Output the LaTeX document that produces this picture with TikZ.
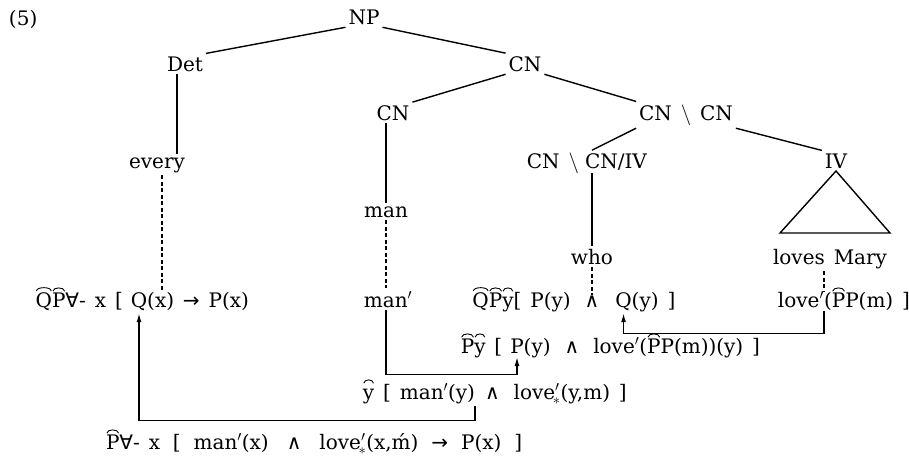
\documentclass[tikz,border=0pt]{standalone}
\usepackage{amsmath}
\usepackage{fontspec}
\setmainfont{DejaVu Serif}[WordSpace=1.4]
\newfontfamily\symf{DejaVu Sans}
\usetikzlibrary{arrows.meta,calc}
\newcommand\arcx[1]{\tikz[baseline=(hA.base)]{\node[inner sep=0pt,outer sep=0pt,anchor=base] (hA) at (0,0) {\vphantom{P}#1};
  \draw[line width=0.9pt] ([xshift=0.8pt,yshift=1.2pt]hA.north west) .. controls ([xshift=1.2pt,yshift=5.6pt]hA.north west) and ([xshift=-1.2pt,yshift=5.6pt]hA.north east) .. ([xshift=-0.8pt,yshift=1.2pt]hA.north east);}}
\newcommand\fa{{\symf ∀}}
\newcommand\wg{{\symf ∧}}
\newcommand\ra{{\symf →}}
\newcommand\W{\hspace{14pt}\wg\hspace{14pt}}
\begin{document}
\begin{tikzpicture}[x=1pt,y=-1pt,
  every node/.style={font=\fontsize{20}{24}\selectfont},
  lbl/.style={inner sep=0pt, outer sep=3pt},
  pc/.style={inner sep=0pt, outer sep=0pt},
  every path/.style={line width=1.4pt},
  dsh/.style={dash pattern=on 4pt off 2.5pt},
  arr/.style={-{Latex[length=9pt,width=5pt]}}]
\useasboundingbox (0,0) rectangle (909,464);
\coordinate (b1) at (0,307);
% tree labels
\node[lbl, anchor=base west] (num) at (6,25) {(5)};
\node[lbl, anchor=base] (NP) at (364,24) {NP};
\node[lbl, anchor=base] (Det) at (185,71) {Det};
\node[lbl, anchor=base] (CNa) at (525,71) {CN};
\node[lbl, anchor=base] (CNb) at (393,120) {CN};
\node[lbl, anchor=base] (CNCN) at (686,120) {CN $\backslash$ CN};
\node[lbl, anchor=base] (every) at (157,168) {every};
\node[lbl, anchor=base west] (CNIV) at (582,168) {CN/IV};
\node[lbl, anchor=base east] (CNIVa) at (CNIV.base west) {CN $\backslash$};
\node[lbl, anchor=base] (IV) at (836,168) {IV};
\node[lbl, anchor=base] (man) at (386,217) {man};
\node[lbl, anchor=base] (who) at (592,264) {who};
\node[lbl, anchor=base] (loves) at (830,264) {loves Mary};
% row 1
\node[pc, anchor=base] (r1aQ) at (139,307) {Q};
\node[pc, anchor=base east] (r1aL) at (r1aQ.base west) {\arcx{Q}\arcx{P}\fa- x [\kern8pt};
\node[pc, anchor=base west] (r1aR) at (r1aQ.base east) {(x) \ra\ P(x)};
\node[lbl, anchor=base] (manp) at (388,307) {man$'$};
\node[pc, anchor=base] (r1cW) at (who.base |- b1) {\wg};
\node[pc, anchor=base east] (r1cL) at ([xshift=-14pt]r1cW.base west) {\arcx{Q}\arcx{P}\arcx{y}[ P(y)};
\node[pc, anchor=base west] (r1cQ) at ([xshift=16pt]r1cW.base east) {Q};
\node[pc, anchor=base west] (r1cR) at (r1cQ.base east) {(y) ]};
\node[pc, anchor=base east] (r1dA) at (824,307) {love$'$};
\node[pc, anchor=base west] (r1dB) at (r1dA.base east) {(\arcx{P}P(m) ]};
% row 2
\node[pc, anchor=base] (r2P) at (517,353) {P};
\node[pc, anchor=base east] (r2L) at (r2P.base west) {\arcx{P}\arcx{y} [\kern8pt};
\node[pc, anchor=base west] (r2R) at (r2P.base east) {(y)\W love$'$(\arcx{P}P(m))(y) ]};
% row 3
\node[pc, anchor=base east] (r3L) at (475,399) {\arcx{y} [ man$'$(y)};
\node[pc, anchor=base west] (r3R) at ([xshift=4pt]r3L.base east) {\hspace{6pt}\wg\hspace{14pt}love$'_{\!*}$(y,m) ]};
% row 4
\node[pc, anchor=base west] (r4) at (106,449) {\arcx{P}\fa- x\hspace{4pt} [\hspace{4pt} man$'$(x)\hspace{4pt}\W\hspace{4pt}love$'_{\!*}$(x,\'m)\hspace{4pt} \ra\hspace{4pt} P(x)\hspace{4pt} ]};
% tree edges
\draw (NP.south west) -- (Det.north east);
\draw (NP.south east) -- (CNa.north west);
\draw (CNa.south west) -- (CNb.north east);
\draw (CNa.south east) -- (CNCN.north west);
\draw (CNCN.south west) -- (CNIV.north -| who.north);
\draw (CNCN.south east) -- (IV.north west);
\draw ([xshift=-8pt]Det.south) -- ([xshift=-8pt]Det.south |- every.north);
\draw (CNb.south -| man.north) -- (man.north);
\draw (CNIV.south -| who.north) -- (who.north);
\coordinate (tl) at (780,233);
\coordinate (tr) at (890,233);
\draw (IV.south) -- (tl) -- (tr) -- cycle;
% dashed correspondences
\draw[dsh, shorten >=2pt] ([xshift=5pt]every.south) -- ([xshift=5pt]every.south |- r1aR.north);
\draw[dsh] (man.south) -- (manp.north -| man.south);
\draw[dsh] (who.south) -- (r1cW.north);
\draw[dsh] (loves.south -| r1dA.east) -- (r1dA.north east);
% arrows
\draw[arr, shorten <=4pt, shorten >=3pt] (r1dA.south east) -- ++(0,26) -| (r1cQ.south);
\draw[arr, shorten >=4pt] (manp.south -| man.south) -- ++(0,64) -| (r2P.south);
\draw[arr, shorten <=3pt, shorten >=3pt] (r3L.south east) -- ++(0,17) -| (r1aQ.south);
\end{tikzpicture}
\end{document}
